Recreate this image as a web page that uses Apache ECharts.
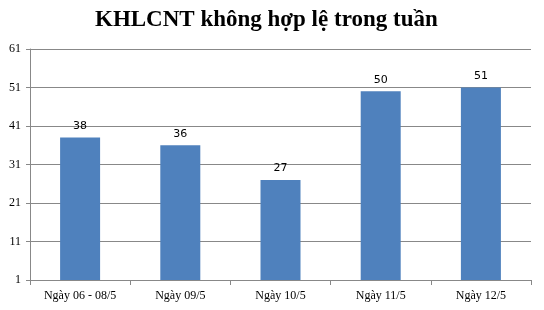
<!DOCTYPE html>
<html><head><meta charset="utf-8">
<script src="https://cdn.jsdelivr.net/npm/echarts@6/dist/echarts.min.js"></script>
<style>html,body{margin:0;padding:0;background:#fff}#c{width:544px;height:310px}</style>
</head><body><div id="c"></div>
<script>
const titleText = "KHLCNT không hợp lệ trong tuần";
const categories = ["Ngày 06 - 08/5", "Ngày 09/5", "Ngày 10/5", "Ngày 11/5", "Ngày 12/5"];
const values = [38, 36, 27, 50, 51];
const yMin = 1, yMax = 61, yStep = 10;

const chart = echarts.init(document.getElementById('c'), null, {renderer: 'canvas'});
chart.setOption({
  animation: false,
  backgroundColor: '#fff',
  title: {
    text: titleText, left: 90, top: 4,
    textStyle: {fontFamily: 'Liberation Serif', fontWeight: 'bold', fontSize: 23, color: '#000'}
  },
  grid: {left: 30, right: 13, top: 49, bottom: 30},
  xAxis: {
    type: 'category', data: categories,
    axisLine: {lineStyle: {color: '#888', width: 1}},
    axisTick: {show: true, alignWithLabel: false, length: 5, lineStyle: {color: '#888'}},
    axisLabel: {fontFamily: 'Liberation Serif', fontSize: 12, color: '#000', margin: 10}
  },
  yAxis: {
    type: 'value', min: yMin, max: yMax, interval: yStep,
    axisLine: {show: true, lineStyle: {color: '#888', width: 1}},
    axisTick: {show: true, length: 4, lineStyle: {color: '#888'}},
    splitLine: {lineStyle: {color: '#888', width: 1}},
    axisLabel: {fontFamily: 'Liberation Serif', fontSize: 12, color: '#000', margin: 9}
  },
  series: [{
    type: 'bar', data: values, barWidth: 40,
    itemStyle: {color: '#4F81BD'},
    label: {show: true, position: 'top', distance: 6, fontFamily: 'DejaVu Sans', fontSize: 11, color: '#000'}
  }]
});
</script></body></html>
